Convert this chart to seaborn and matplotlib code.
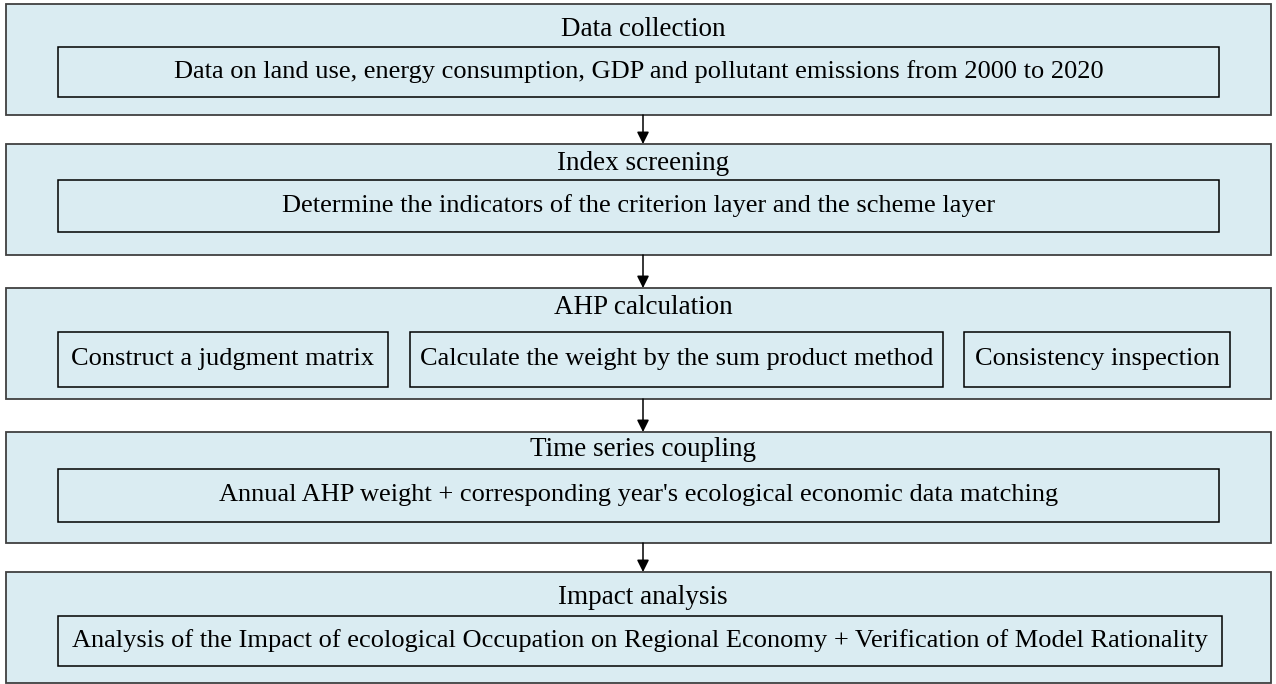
import matplotlib.pyplot as plt
import seaborn as sns
from matplotlib.patches import Rectangle

# stage titles and the boxed steps inside each stage
stage_titles = ["Data collection", "Index screening", "AHP calculation",
                "Time series coupling", "Impact analysis"]
stage_steps = [
    ["Data on land use, energy consumption, GDP and pollutant emissions from 2000 to 2020"],
    ["Determine the indicators of the criterion layer and the scheme layer"],
    ["Construct a judgment matrix", "Calculate the weight by the sum product method",
     "Consistency inspection"],
    ["Annual AHP weight + corresponding year's ecological economic data matching"],
    ["Analysis of the Impact of ecological Occupation on Regional Economy + Verification of Model Rationality"],
]

# layout (pixel units of a 1276x684 canvas)
outer_top = [4, 144, 288, 432, 572]
outer_h = 111
title_y = [29, 163, 308, 450, 597]
inner_top = [47, 180, 332, 469, 616]
inner_bot = [97, 232, 387, 522, 666]
step_x = [
    [(58, 1219)],
    [(58, 1219)],
    [(58, 388), (410, 943), (964, 1230)],
    [(58, 1219)],
    [(58, 1222)],
]

sns.set_style("white")
plt.rcParams['font.family'] = ['Liberation Serif', 'DejaVu Serif']
plt.rcParams['text.color'] = 'black'

fig = plt.figure(figsize=(12.76, 6.84), dpi=100)
ax = fig.add_axes([0, 0, 1, 1])
ax.set_xlim(0, 1276)
ax.set_ylim(684, 0)
ax.axis('off')

fill = '#DAECF2'
for i, title in enumerate(stage_titles):
    ax.add_patch(Rectangle((6, outer_top[i]), 1265, outer_h, facecolor=fill,
                           edgecolor='#404040', linewidth=1.3))
    ax.text(643, title_y[i], title, ha='center', va='center', fontsize=19.5, color='black')
    for (x0, x1), step in zip(step_x[i], stage_steps[i]):
        y0, y1 = inner_top[i], inner_bot[i]
        ax.add_patch(Rectangle((x0, y0), x1 - x0, y1 - y0, facecolor='none',
                               edgecolor='black', linewidth=1.1))
        ax.text((x0 + x1) / 2, (y0 + y1) / 2, step, ha='center', va='center',
                fontsize=19, color='black')
    if i < len(stage_titles) - 1:
        ax.annotate('', xy=(643, outer_top[i + 1]), xytext=(643, outer_top[i] + outer_h),
                    arrowprops=dict(arrowstyle='-|>', color='black', lw=1.1,
                                    mutation_scale=18, shrinkA=0, shrinkB=0))

fig.savefig('out.png', dpi=100)
